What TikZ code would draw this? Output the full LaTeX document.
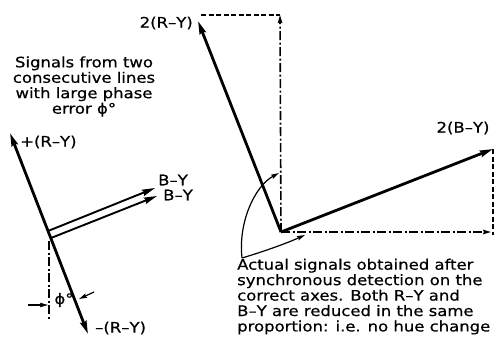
\documentclass[tikz,border=0pt]{standalone}
\usepackage{fontspec}
\setmainfont{DejaVu Sans}
\newfontfamily\labfont{DejaVu Sans}[FakeBold=0.5,FakeStretch=1.14]
\usetikzlibrary{arrows.meta}
\begin{document}
\begin{tikzpicture}[x=1bp,y=-1bp,
  bigtip/.style={-{Stealth[length=13bp,width=6.5bp,inset=1.5bp]}},
  smalltip/.style={-{Stealth[length=8bp,width=4.5bp,inset=1bp]}},
  vec/.style={line width=2.8bp},
  dvec/.style={line width=1.9bp},
  dashdot/.style={line width=1.6bp, dash pattern=on 9bp off 2.5bp on 2bp off 2.5bp},
  dshort/.style={line width=1.7bp, dash pattern=on 5bp off 2.5bp},
  thin/.style={line width=1.2bp},
  lbl/.style={font=\labfont\fontsize{14.5}{15.5}\selectfont, inner sep=0pt},
  txt/.style={font=\labfont\fontsize{14.5}{15.5}\selectfont, inner sep=0pt}]
\useasboundingbox (0,0) rectangle (496,336);
% ---------- left diagram ----------
\coordinate (ptop) at (10,133);
\coordinate (pbot) at (88,334);
\coordinate (j1) at (48,231);
\coordinate (j2) at (51,238);
\coordinate (b1) at (155,188);
\coordinate (b2) at (157,196);
\coordinate (vd1) at (49,241);
\coordinate (vd2) at (49,320);
\coordinate (la1) at (28,305);
\coordinate (la2) at (48,305);
\coordinate (ra1) at (94,292);
\coordinate (ra2) at (79,299);
\draw[vec,{Stealth[length=13bp,width=6.5bp,inset=1.5bp]}-{Stealth[length=13bp,width=6.5bp,inset=1.5bp]}] (pbot) -- (ptop);
\draw[dvec,bigtip] (j1) -- (b1);
\draw[dvec,bigtip] (j2) -- (b2);
\draw[dashdot] (vd1) -- (vd2);
\draw[thin,smalltip] (la1) -- (la2);
\draw[thin,smalltip] (ra1) -- (ra2);
\node[lbl,anchor=west] (lp) at (20,142) {+(R–Y)};
\node[lbl,anchor=west] (lm) at (95,328) {–(R–Y)};
\node[lbl] (lb1) at (173,180) {B–Y};
\node[lbl] (lb2) at (178,195) {B–Y};
\node[lbl] (phi) at (64,300) {ϕ°};
\node[txt,align=center] (ltext) at (84,86.5) {Signals from two\\consecutive lines\\with large phase\\error ϕ°};
% ---------- right diagram ----------
\coordinate (o) at (281,232);
\coordinate (ry) at (198,21);
\coordinate (vt) at (280,15);
\coordinate (tl) at (201,15);
\coordinate (by) at (493,149);
\coordinate (ht) at (491,232);
\coordinate (rb) at (493,235);
\draw[vec,bigtip] (o) -- (ry);
\draw[vec,bigtip] (o) -- (by);
\draw[dashdot,smalltip] (o) -- (vt);
\draw[dashdot,smalltip] (o) -- (ht);
\draw[dshort] (tl) -- (vt);
\draw[dshort] (by) -- (rb);
\node[lbl,anchor=east] (lry) at (193,23) {2(R–Y)};
\node[lbl] (lby) at (463,128) {2(B–Y)};
\coordinate (br) at (242,258);
\coordinate (a1) at (279,173);
\coordinate (a2) at (305,235);
\draw[thin,smalltip] (br) .. controls (238,222) and (255,186) .. (a1);
\draw[thin,smalltip] (br) .. controls (262,252) and (285,244) .. (a2);
\node[txt,align=left,anchor=north west] (rtext) at (237,258.5) {Actual signals obtained after\\synchronous detection on the\\correct axes. Both R–Y and\\B–Y are reduced in the same\\proportion: i.e. no hue change};
\end{tikzpicture}
\end{document}
